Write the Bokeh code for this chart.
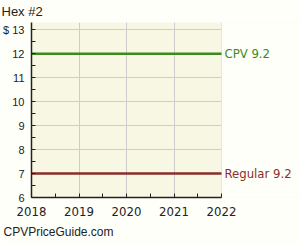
from bokeh.plotting import figure
from bokeh.models import Range1d, FixedTicker, BoxAnnotation, Title
from bokeh.core.properties import value
from bokeh.embed import file_html
from bokeh.resources import INLINE

years = [2018, 2022]
cpv_price = [12, 12]
regular_price = [7, 7]
grade = "9.2"
series_names = ["CPV", "Regular"]
y_ticks = [6, 7, 8, 9, 10, 11, 12, 13]
x_ticks = [2018, 2019, 2020, 2021, 2022]

PAGE = "#FFFFFA"
PLOT_BG = "#F8F7E4"
GREEN = "#3C8A1E"
RED = "#8A2E2A"
NARROW = "'Liberation Sans Narrow', 'DejaVu Sans Condensed', 'Liberation Sans', sans-serif"

span = years[-1] - years[0]
p = figure(width=300, height=245, output_backend="svg", toolbar_location=None,
           x_range=Range1d(years[0], years[-1] + span * 79 / 190),
           y_range=Range1d(6, 13.3),
           min_border_left=31, min_border_right=0, min_border_top=22, min_border_bottom=48)
p.background_fill_color = PLOT_BG
p.border_fill_color = PAGE
p.outline_line_color = None

p.xaxis.ticker = FixedTicker(ticks=x_ticks, minor_ticks=[2018.5, 2019.5, 2020.5, 2021.5])
p.yaxis.ticker = FixedTicker(ticks=y_ticks, minor_ticks=[6.5, 7.5, 8.5, 9.5, 10.5, 11.5, 12.5])
p.xaxis.bounds = (years[0], years[-1])
p.yaxis.major_label_overrides = {13: "$ 13"}
p.xgrid.ticker = FixedTicker(ticks=x_ticks)
p.ygrid.ticker = FixedTicker(ticks=y_ticks)
p.xgrid.grid_line_color = "#CCCCCC"
p.ygrid.grid_line_color = "#CCCCCC"

# page-coloured area right of the plot (hides the grid there)
p.add_layout(BoxAnnotation(left=years[-1], fill_color=PAGE, fill_alpha=1.0,
                           line_color=None, level="underlay"))

p.line(years, cpv_price, line_color=GREEN, line_width=2.5)
p.line(years, regular_price, line_color=RED, line_width=2.5)

p.text(x=[years[-1]], y=[cpv_price[-1]], text=[f"{series_names[0]} {grade}"], x_offset=3,
       text_font=value(NARROW), text_font_size="13px", text_color=GREEN,
       text_baseline="middle", text_align="left")
p.text(x=[years[-1]], y=[regular_price[-1]], text=[f"{series_names[1]} {grade}"], x_offset=3,
       text_font=value(NARROW), text_font_size="13px", text_color=RED,
       text_baseline="middle", text_align="left")

for ax in (p.xaxis[0], p.yaxis[0]):
    ax.axis_line_color = "#222222"
    ax.axis_line_width = 1.5
    ax.major_tick_line_color = "#222222"
    ax.minor_tick_line_color = "#222222"
    ax.major_tick_in = 4
    ax.major_tick_out = 0
    ax.minor_tick_in = 4
    ax.minor_tick_out = 0
    ax.major_label_text_color = "#222222"

p.xaxis.major_label_text_font = NARROW
p.xaxis.major_label_text_font_size = "13px"
p.xaxis.major_label_standoff = 9
p.yaxis.major_label_text_font = "Liberation Sans"
p.yaxis.major_label_text_font_size = "11px"
p.yaxis.major_label_standoff = 7

p.add_layout(Title(text="Hex #2", align="left", offset=-30, standoff=4,
                   vertical_align="top",
                   text_font="Liberation Sans", text_font_size="13px",
                   text_font_style="normal", text_color="#222222"), "above")
p.add_layout(Title(text="CPVPriceGuide.com", align="left", offset=-28, standoff=8,
                   vertical_align="bottom",
                   text_font="Liberation Sans", text_font_size="12px",
                   text_font_style="normal", text_color="#222222"), "below")

open("out.html", "w").write(file_html(p, INLINE))
